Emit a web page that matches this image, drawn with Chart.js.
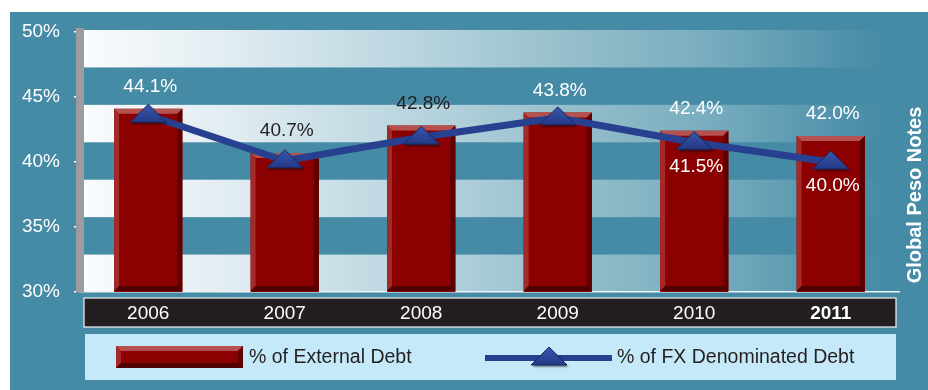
<!DOCTYPE html>
<html>
<head>
<meta charset="utf-8">
<title>Global Peso Notes</title>
<script src="https://cdn.jsdelivr.net/npm/chart.js@4.4.1/dist/chart.umd.min.js"></script>
<style>
html, body { margin: 0; padding: 0; background: #fff; }
canvas { display: block; }
</style>
</head>
<body>
<canvas id="debtChart" width="928" height="390"></canvas>
<script>
// ================= DATA =================
let years = ["2006", "2007", "2008", "2009", "2010", "2011"];
let externalDebt = [44.1, 40.7, 42.8, 43.8, 42.4, 42.0];
let fxDebt = [43.6, 40.1, 41.9, 43.4, 41.5, 40.0];
let yTicks = [30, 35, 40, 45, 50];
let fxLabelYears = ["2010", "2011"];
let sideTitle = "Global Peso Notes";

// ================= STYLE =================
let FONT = "'Liberation Sans', Arial, Helvetica, sans-serif";
let TEAL = "#468ba6";
let BAR_RED = "#8b0000";
let LINE_BLUE = "#27408f";
let TEXT_DARK = "#231f20";
let barLabelColors = ["#fff", TEXT_DARK, TEXT_DARK, "#fff", "#fff", "#fff"];

Chart.defaults.font.family = FONT;

// ================= TRIANGLE MARKER =================
function makeTriangle(){

    let c = document.createElement("canvas");
    c.width = 44;
    c.height = 30;

    let g = c.getContext("2d");

    g.shadowColor = "rgba(0,0,0,0.45)";
    g.shadowOffsetX = 1.5;
    g.shadowOffsetY = 2;
    g.shadowBlur = 2;

    let grad = g.createLinearGradient(0, 4, 0, 22);
    grad.addColorStop(0, "#3a57ad");
    grad.addColorStop(1, "#233a86");

    g.fillStyle = grad;
    g.beginPath();
    g.moveTo(22, 4);
    g.lineTo(40, 22);
    g.lineTo(4, 22);
    g.closePath();
    g.fill();

    g.shadowColor = "transparent";
    g.strokeStyle = "#162a63";
    g.lineWidth = 1;
    g.stroke();

    return c;
}

let triangle = makeTriangle();

// ================= BAR BEVEL =================
function poly(ctx, color, pts){
    ctx.fillStyle = color;
    ctx.beginPath();
    ctx.moveTo(pts[0][0], pts[0][1]);
    for(let i = 1; i < pts.length; i++){
        ctx.lineTo(pts[i][0], pts[i][1]);
    }
    ctx.closePath();
    ctx.fill();
}

function drawBevel(ctx, left, top, right, bottom){

    let b = 5;

    poly(ctx, "#b5524f", [[left, top], [right, top], [right - b, top + b], [left + b, top + b]]);
    poly(ctx, "#a42a2a", [[left, top], [left + b, top + b], [left + b, bottom - b], [left, bottom]]);
    poly(ctx, "#5e0000", [[right, top], [right, bottom], [right - b, bottom - b], [right - b, top + b]]);
    poly(ctx, "#4f0000", [[left, bottom], [left + b, bottom - b], [right - b, bottom - b], [right, bottom]]);

}

// ================= DECORATION PLUGIN =================
let chartDecor = {

    id: "chartDecor",

    beforeDraw(chart){

        let ctx = chart.ctx;
        let area = chart.chartArea;

        ctx.save();

        // page + teal panel
        ctx.fillStyle = "#fff";
        ctx.fillRect(0, 0, chart.width, chart.height);
        ctx.fillStyle = TEAL;
        ctx.fillRect(10, 12, chart.width - 10, chart.height - 12);

        // horizontal stripes across the plot
        let top = area.top - 2;
        let h = (area.bottom - top) / 7;

        let grad = ctx.createLinearGradient(area.left, 0, area.right - 15, 0);
        grad.addColorStop(0, "#fafcfd");
        grad.addColorStop(0.18, "#e2edf2");
        grad.addColorStop(0.47, "#afcfda");
        grad.addColorStop(0.6, "#97bfcc");
        grad.addColorStop(0.78, "#78adbf");
        grad.addColorStop(0.96, "#4d90aa");
        grad.addColorStop(1, TEAL);

        for(let i = 0; i < 7; i += 2){
            ctx.fillStyle = grad;
            ctx.fillRect(area.left, top + i * h, area.right - area.left, h);
        }

        // dark band behind the year labels
        ctx.fillStyle = TEXT_DARK;
        ctx.fillRect(84, area.bottom + 6, 812, 29);
        ctx.strokeStyle = "#f2f2f2";
        ctx.lineWidth = 1.2;
        ctx.strokeRect(84, area.bottom + 6, 812, 29);

        ctx.restore();

    },

    afterDatasetDraw(chart, args){

        if(args.index !== 0) return;

        let ctx = chart.ctx;
        let floor = chart.chartArea.bottom - 1;

        ctx.save();
        args.meta.data.forEach(bar => {
            drawBevel(ctx, bar.x - bar.width / 2, bar.y, bar.x + bar.width / 2, Math.min(bar.base, floor));
        });
        ctx.restore();

    },

    afterDraw(chart){

        let ctx = chart.ctx;
        let bars = chart.getDatasetMeta(0).data;
        let points = chart.getDatasetMeta(1).data;

        ctx.save();

        // value labels
        ctx.font = "19px " + FONT;
        ctx.textAlign = "center";
        ctx.textBaseline = "middle";

        bars.forEach((bar, i) => {
            ctx.fillStyle = barLabelColors[i];
            ctx.fillText(externalDebt[i].toFixed(1) + "%", bar.x + 2, bar.y - 22);
        });

        points.forEach((pt, i) => {
            if(fxLabelYears.indexOf(years[i]) === -1) return;
            ctx.fillStyle = "#fff";
            ctx.fillText(fxDebt[i].toFixed(1) + "%", pt.x + 2, pt.y + 24);
        });

        // legend
        let ds = chart.data.datasets;

        ctx.fillStyle = "#c5e9f8";
        ctx.fillRect(85, 334, 811, 46);

        ctx.fillStyle = BAR_RED;
        ctx.fillRect(116, 346, 127, 22);
        drawBevel(ctx, 116, 346, 243, 368);

        ctx.fillStyle = LINE_BLUE;
        ctx.fillRect(485, 355, 127, 6);
        ctx.drawImage(triangle, 549 - 22, 343);

        ctx.font = "19.5px " + FONT;
        ctx.textAlign = "left";
        ctx.fillStyle = TEXT_DARK;
        ctx.fillText(ds[0].label, 249, 358);
        ctx.fillText(ds[1].label, 617, 358);

        // rotated side title
        ctx.translate(915, 195);
        ctx.rotate(-Math.PI / 2);
        ctx.font = "bold 20px " + FONT;
        ctx.textAlign = "center";
        ctx.fillStyle = "#fff";
        ctx.fillText(sideTitle, 0, 0);

        ctx.restore();

    }

};

// ================= CHART =================
let ctx = document.getElementById("debtChart");

new Chart(ctx, {

    data: {

        labels: years,

        datasets: [{

            type: "bar",
            label: "% of External Debt",
            data: externalDebt,
            backgroundColor: BAR_RED,
            borderWidth: 0,
            categoryPercentage: 1,
            barPercentage: 0.5,
            order: 2

        }, {

            type: "line",
            label: "% of FX Denominated Debt",
            data: fxDebt,
            borderColor: LINE_BLUE,
            borderWidth: 7,
            tension: 0,
            pointStyle: triangle,
            pointRadius: 15,
            order: 1

        }]

    },

    options: {

        responsive: false,
        animation: false,
        devicePixelRatio: 1,

        layout: {
            padding: { top: 32, right: 29, bottom: 58, left: 0 }
        },

        plugins: {
            legend: { display: false },
            tooltip: { enabled: false }
        },

        scales: {

            x: {
                afterFit(scale){ scale.height = 40; },
                grid: { display: false, drawTicks: false },
                border: { color: "#eef3f5", width: 1.5 },
                ticks: {
                    color: "#fff",
                    padding: 10,
                    font: c => ({ size: 19, weight: c.index === years.length - 1 ? "bold" : "normal" })
                }
            },

            y: {
                min: yTicks[0],
                max: yTicks[yTicks.length - 1],
                afterFit(scale){ scale.width = 80; },
                afterBuildTicks(axis){ axis.ticks = yTicks.map(v => ({ value: v })); },
                grid: {
                    drawOnChartArea: false,
                    drawTicks: true,
                    tickLength: 6,
                    color: "#fff",
                    lineWidth: 1.5
                },
                border: { color: "#9b9ba0", width: 8 },
                ticks: {
                    color: "#fff",
                    padding: 14,
                    font: { size: 19 },
                    callback: v => v + "%"
                }
            }

        }

    },

    plugins: [chartDecor]

});
</script>
</body>
</html>
